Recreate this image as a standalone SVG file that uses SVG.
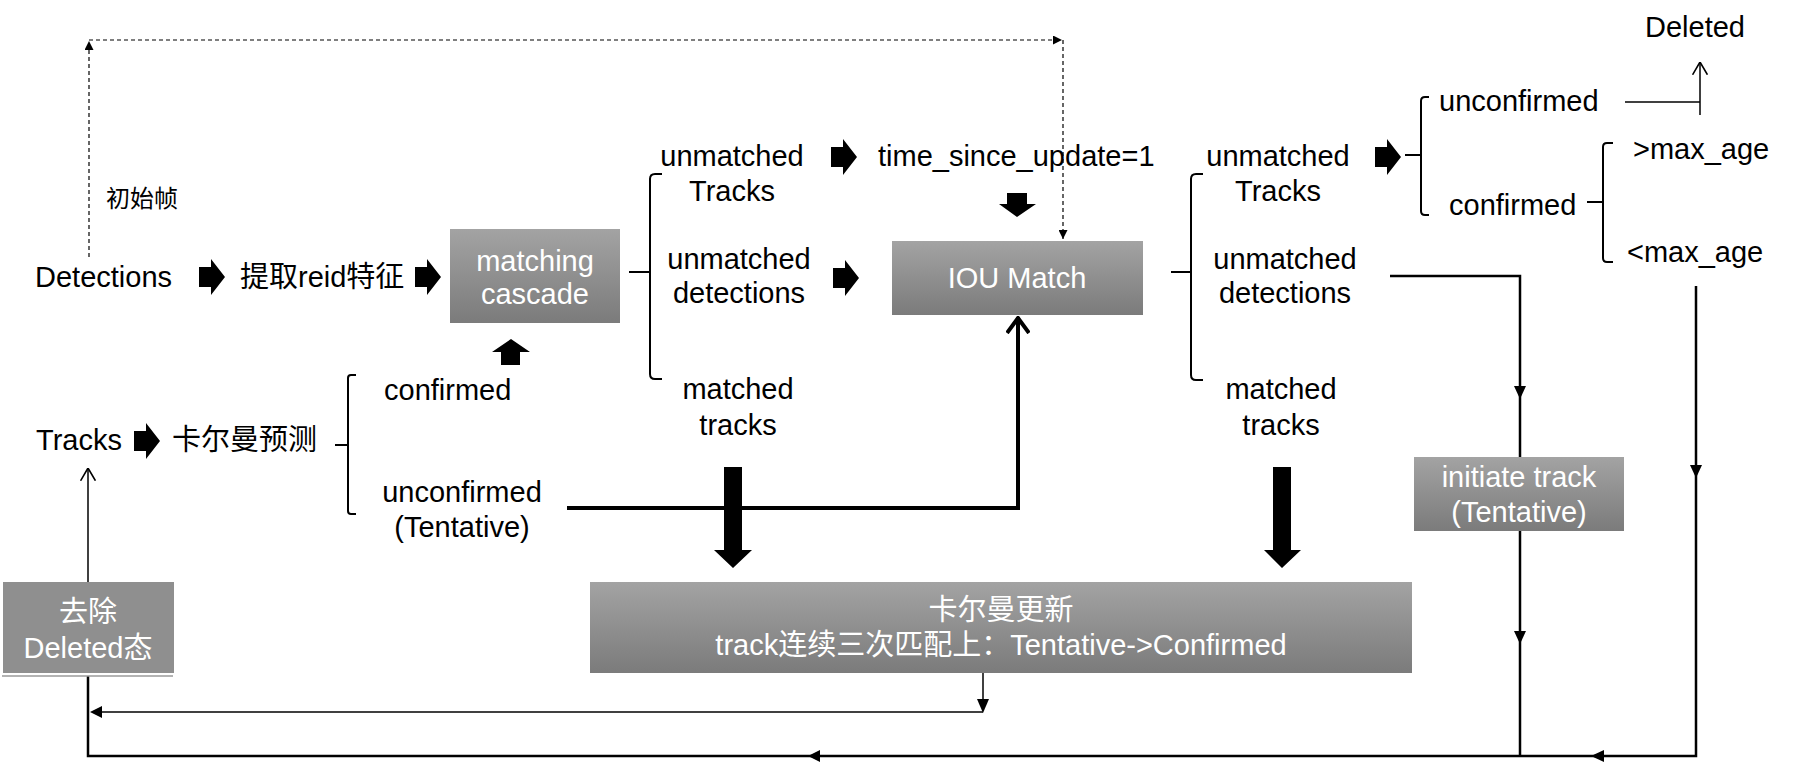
<svg xmlns="http://www.w3.org/2000/svg" width="1810" height="770" viewBox="0 0 1810 770">
<defs>
<linearGradient id="g" x1="0" y1="0" x2="0" y2="1">
<stop offset="0" stop-color="#a3a3a3"/>
<stop offset="1" stop-color="#7b7b7b"/>
</linearGradient>
<marker id="fa" viewBox="0 0 10 10" refX="10" refY="5" markerWidth="10" markerHeight="9" markerUnits="userSpaceOnUse" orient="auto">
<path d="M0,0 L10,5 L0,10 Z" fill="#000"/>
</marker>
<marker id="oa" viewBox="0 0 12 16" refX="12" refY="8" markerWidth="13" markerHeight="17" markerUnits="userSpaceOnUse" orient="auto">
<path d="M0,1 L12,8 L0,15" fill="none" stroke="#000" stroke-width="1.5"/>
</marker>
<marker id="ob" viewBox="0 0 18 24" refX="17" refY="12" markerWidth="18" markerHeight="24" markerUnits="userSpaceOnUse" orient="auto">
<path d="M1,1 L16,12 L1,23" fill="none" stroke="#000" stroke-width="4"/>
</marker>
<path id="ra" d="M-13,-10 H-1 V-18 L13,0 L-1,18 V10 H-13 Z" fill="#000"/>
</defs>
<style>
text{font-family:"Liberation Sans","Noto Sans CJK SC",sans-serif;font-size:29px;fill:#000}
.w{fill:#fff}
.m{text-anchor:middle}
.br{fill:none;stroke:#000;stroke-width:2}
.ln{fill:none;stroke:#000}
</style>

<g id="connectors">
<path d="M89,257 V41" class="ln" stroke-width="1.2" stroke-dasharray="4,3" marker-end="url(#fa)"/>
<path d="M89,40 H1062" class="ln" stroke-width="1.2" stroke-dasharray="4,3" marker-end="url(#fa)"/>
<path d="M1063,40 V239" class="ln" stroke-width="1.2" stroke-dasharray="4,3" marker-end="url(#fa)"/>
<path d="M567,508 H1018 V317" class="ln" stroke-width="4" marker-end="url(#ob)"/>
<path d="M1625,102 H1700" class="ln" stroke-width="1.5"/>
<path d="M1700,115 V62" class="ln" stroke-width="1.5" marker-end="url(#oa)"/>
<path d="M88,582 V468" class="ln" stroke-width="1.5" marker-end="url(#oa)"/>
<path d="M1390,276 H1520 V457" class="ln" stroke-width="2.5"/>
<path d="M1520,531 V756" class="ln" stroke-width="2.5"/>
<path d="M1696,286 V756 H88 V676" class="ln" stroke-width="2.5"/>
<path d="M983,673 V700" class="ln" stroke-width="1.5"/>
<path d="M983,712 H100" class="ln" stroke-width="1.5"/>
<polygon points="977,699 989,699 983,713" fill="#000"/>
<polygon points="90,712 102,706 102,718" fill="#000"/>
<polygon points="1514,386 1526,386 1520,399" fill="#000"/>
<polygon points="1514,631 1526,631 1520,644" fill="#000"/>
<polygon points="1690,465 1702,465 1696,478" fill="#000"/>
<polygon points="1591,756 1604,750 1604,762" fill="#000"/>
<polygon points="808,756 820,750 820,762" fill="#000"/>
<path d="M2,676 H173" stroke="#9a9a9a" stroke-width="1.5"/>
<use href="#ra" x="212" y="277"/>
<use href="#ra" x="428" y="277"/>
<use href="#ra" x="844" y="157"/>
<use href="#ra" x="846" y="278"/>
<use href="#ra" x="1388" y="157"/>
<use href="#ra" x="147" y="441"/>
<path d="M1007,193 H1027 V204 H1036 L1017,217 L999,204 H1007 Z" fill="#000"/>
<path d="M511,339 L530,352 H520 V365 H501 V352 H492 Z" fill="#000"/>
<path d="M724,467 H742 V550 H752 L733,568 L714,550 H724 Z" fill="#000"/>
<path d="M1273,467 H1291 V550 H1301 L1282,568 L1264,550 H1273 Z" fill="#000"/>
</g>

<g id="brackets">
<path class="br" d="M629,272 H650 M662,174 H655 Q650,174 650,179 V374 Q650,379 655,379 H662"/>
<path class="br" d="M1171,272 H1191 M1203,174 H1196 Q1191,174 1191,179 V375 Q1191,380 1196,380 H1203"/>
<path class="br" d="M1405,155 H1421 M1429,97 H1425 Q1421,97 1421,101 V211 Q1421,215 1425,215 H1429"/>
<path class="br" d="M1587,202 H1603 M1613,143 H1607 Q1603,143 1603,147 V258 Q1603,262 1607,262 H1613"/>
<path class="br" stroke-width="1.2" d="M335,445 H348 M356,375 H351 Q348,375 348,378 V511 Q348,514 351,514 H356"/>
</g>

<g id="detections"><text x="35" y="287">Detections</text></g>
<g id="reid"><text x="240" y="287">提取reid特征</text></g>
<g id="init-frame"><text x="106" y="207" style="font-size:24px">初始帧</text></g>
<g id="matching-cascade">
<rect x="450" y="229" width="170" height="94" fill="url(#g)"/>
<text class="w m" x="535" y="271">matching</text>
<text class="w m" x="535" y="304">cascade</text>
</g>
<g id="mc-unmatched-tracks"><text class="m" x="732" y="166">unmatched</text><text class="m" x="732" y="201">Tracks</text></g>
<g id="time-since-update"><text x="878" y="166">time_since_update=1</text></g>
<g id="mc-unmatched-detections"><text class="m" x="739" y="269">unmatched</text><text class="m" x="739" y="303">detections</text></g>
<g id="mc-matched-tracks"><text class="m" x="738" y="399">matched</text><text class="m" x="738" y="435">tracks</text></g>
<g id="iou-match">
<rect x="892" y="241" width="251" height="74" fill="url(#g)"/>
<text class="w m" x="1017" y="288">IOU Match</text>
</g>
<g id="iou-unmatched-tracks"><text class="m" x="1278" y="166">unmatched</text><text class="m" x="1278" y="201">Tracks</text></g>
<g id="iou-unmatched-detections"><text class="m" x="1285" y="269">unmatched</text><text class="m" x="1285" y="303">detections</text></g>
<g id="iou-matched-tracks"><text class="m" x="1281" y="399">matched</text><text class="m" x="1281" y="435">tracks</text></g>
<g id="unconfirmed-r"><text x="1439" y="111">unconfirmed</text></g>
<g id="confirmed-r"><text x="1449" y="215">confirmed</text></g>
<g id="gt-max-age"><text x="1633" y="159">&gt;max_age</text></g>
<g id="lt-max-age"><text x="1627" y="262">&lt;max_age</text></g>
<g id="deleted"><text class="m" x="1695" y="37">Deleted</text></g>
<g id="tracks"><text x="36" y="450">Tracks</text></g>
<g id="kalman-predict"><text x="172" y="450">卡尔曼预测</text></g>
<g id="confirmed-l"><text x="384" y="400">confirmed</text></g>
<g id="unconfirmed-l"><text class="m" x="462" y="502">unconfirmed</text><text class="m" x="462" y="537">(Tentative)</text></g>
<g id="initiate-track">
<rect x="1414" y="457" width="210" height="74" fill="url(#g)"/>
<text class="w m" x="1519" y="487">initiate track</text>
<text class="w m" x="1519" y="522">(Tentative)</text>
</g>
<g id="remove-deleted">
<rect x="3" y="582" width="171" height="91" fill="#8f8f8f"/>
<text class="w m" x="88" y="622">去除</text>
<text class="w m" x="88" y="658">Deleted态</text>
</g>
<g id="kalman-update">
<rect x="590" y="582" width="822" height="91" fill="url(#g)"/>
<text class="w m" x="1001" y="620">卡尔曼更新</text>
<text class="w m" x="1001" y="655">track连续三次匹配上：Tentative-&gt;Confirmed</text>
</g>
</svg>
